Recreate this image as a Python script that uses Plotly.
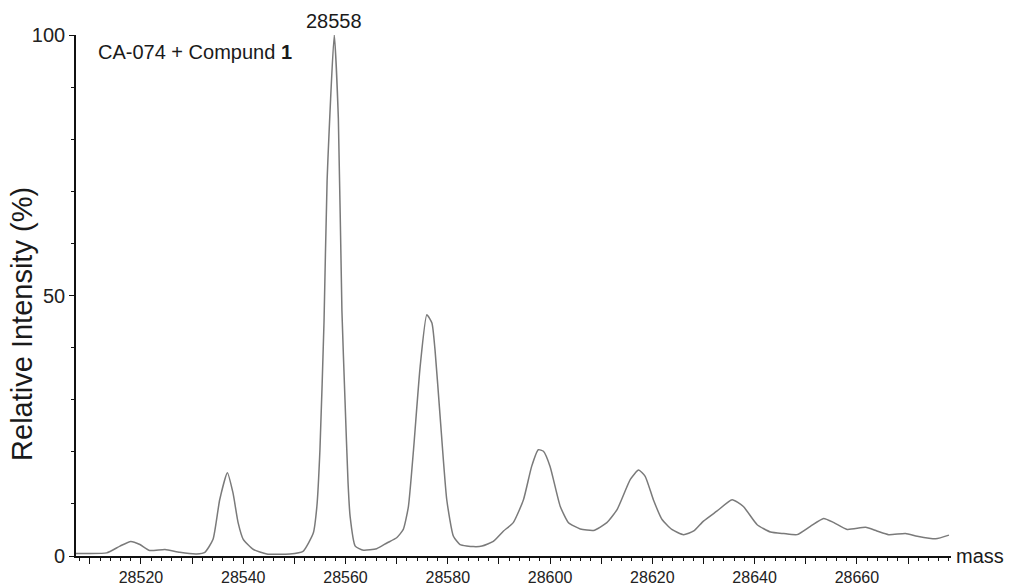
import plotly.graph_objects as go

# Spectrum trace
mass = [28507.3, 28508.0, 28513.3, 28515.9, 28518.0, 28519.8, 28521.7, 28524.7, 28527.6, 28530.9,
        28532.5, 28534.1, 28535.4, 28536.9, 28538.0, 28539.0, 28540.0, 28542.0, 28544.6, 28549.1,
        28551.7, 28553.7, 28554.4, 28555.0, 28555.8, 28556.4, 28557.8, 28558.6, 28559.3, 28559.9,
        28560.5, 28560.9, 28561.9, 28563.5, 28566.1, 28568.1, 28570.0, 28571.3, 28572.3, 28573.3,
        28574.6, 28575.9, 28576.9, 28577.5, 28578.5, 28579.8, 28581.1, 28582.4, 28585.0, 28586.7,
        28588.9, 28590.9, 28592.8, 28594.8, 28596.4, 28597.7, 28598.7, 28600.0, 28602.0, 28603.6,
        28605.9, 28608.5, 28611.1, 28613.1, 28615.7, 28617.3, 28618.6, 28620.2, 28621.9, 28623.8,
        28626.1, 28628.1, 28630.0, 28632.6, 28635.6, 28637.8, 28640.5, 28643.1, 28645.7, 28648.3,
        28650.9, 28653.5, 28655.5, 28658.1, 28661.7, 28663.9, 28666.2, 28669.5, 28671.8, 28675.4,
        28678.0]
intensity = [0.5, 0.5, 0.6, 1.9, 2.8, 2.2, 1.05, 1.25, 0.7, 0.4,
             0.7, 3.2, 10.8, 16.0, 12.1, 6.4, 3.2, 1.25, 0.4, 0.4,
             0.9, 4.4, 9.5, 20.4, 45.0, 72.0, 100.0, 84.0, 47.0, 30.0,
             14.0, 7.6, 1.9, 1.1, 1.4, 2.5, 3.5, 5.1, 9.5, 20.4,
             36.4, 46.3, 44.7, 39.6, 26.8, 10.8, 3.8, 2.2, 1.8, 1.9,
             2.8, 4.8, 6.4, 10.8, 17.2, 20.4, 20.1, 17.2, 9.5, 6.4,
             5.2, 4.9, 6.4, 8.9, 14.7, 16.5, 15.3, 10.8, 7.0, 5.1,
             4.1, 4.8, 6.7, 8.6, 10.8, 9.5, 6.0, 4.6, 4.3, 4.1,
             5.7, 7.2, 6.4, 5.1, 5.5, 4.8, 4.1, 4.3, 3.8, 3.3,
             4.0]

x_ticks = list(range(28510, 28671, 10))
x_labels = [str(v) if v % 20 == 0 else "" for v in x_ticks]
y_ticks = [0, 50, 100]
peak_label = "28558"
peak_mass = 28557.8
sample_label = "CA-074 + Compund <b>1</b>"

FONT = "Liberation Sans, Arial, sans-serif"

fig = go.Figure()
fig.add_trace(go.Scatter(
    x=mass, y=intensity, mode="lines",
    line=dict(color="#7a7a7a", width=1.5, shape="spline", smoothing=0.5),
    hoverinfo="skip", showlegend=False,
))

fig.update_layout(
    width=1009, height=586,
    margin=dict(l=76, r=58, t=35, b=30),
    paper_bgcolor="white", plot_bgcolor="white",
    font=dict(family=FONT, color="#1a1a1a"),
    xaxis=dict(
        range=[28507.3, 28678.4],
        automargin=False,
        showline=True, linecolor="#111", linewidth=1.6,
        showgrid=False, zeroline=False,
        tickmode="array", tickvals=x_ticks, ticktext=x_labels,
        ticks="outside", ticklen=6, tickwidth=1.2, tickcolor="#111",
        tickfont=dict(size=16, family=FONT, color="#222"),
        minor=dict(tickmode="linear", tick0=28510, dtick=2, ticks="outside",
                   ticklen=3, tickwidth=1, tickcolor="#111", showgrid=False),
    ),
    yaxis=dict(
        range=[0, 100],
        automargin=False,
        showline=True, linecolor="#111", linewidth=1.6,
        showgrid=False, zeroline=False,
        tickmode="array", tickvals=y_ticks,
        ticks="outside", ticklen=5, tickwidth=1.2, tickcolor="#111",
        tickfont=dict(size=20, family=FONT, color="#222"),
        minor=dict(tickmode="linear", tick0=0, dtick=10, ticks="outside",
                   ticklen=3, tickwidth=1, tickcolor="#111", showgrid=False),
    ),
    annotations=[
        dict(text=peak_label, x=peak_mass, y=100, xref="x", yref="y",
             xanchor="center", yanchor="bottom", yshift=1, showarrow=False,
             font=dict(size=20, family=FONT, color="#1a1a1a")),
        dict(text=sample_label, x=0.023, y=0.967, xref="paper", yref="paper",
             xanchor="left", yanchor="middle", showarrow=False,
             font=dict(size=20, family=FONT, color="#1a1a1a")),
        dict(text="mass", x=1, y=0, xref="paper", yref="y",
             xanchor="left", yanchor="middle", xshift=3, showarrow=False,
             font=dict(size=20, family=FONT, color="#1a1a1a")),
        dict(text="Relative Intensity (%)", x=-0.062, y=0.445, xref="paper", yref="paper",
             xanchor="center", yanchor="middle", textangle=-90, showarrow=False,
             font=dict(size=29, family=FONT, color="#1a1a1a")),
    ],
)

fig.write_html("out.html")
